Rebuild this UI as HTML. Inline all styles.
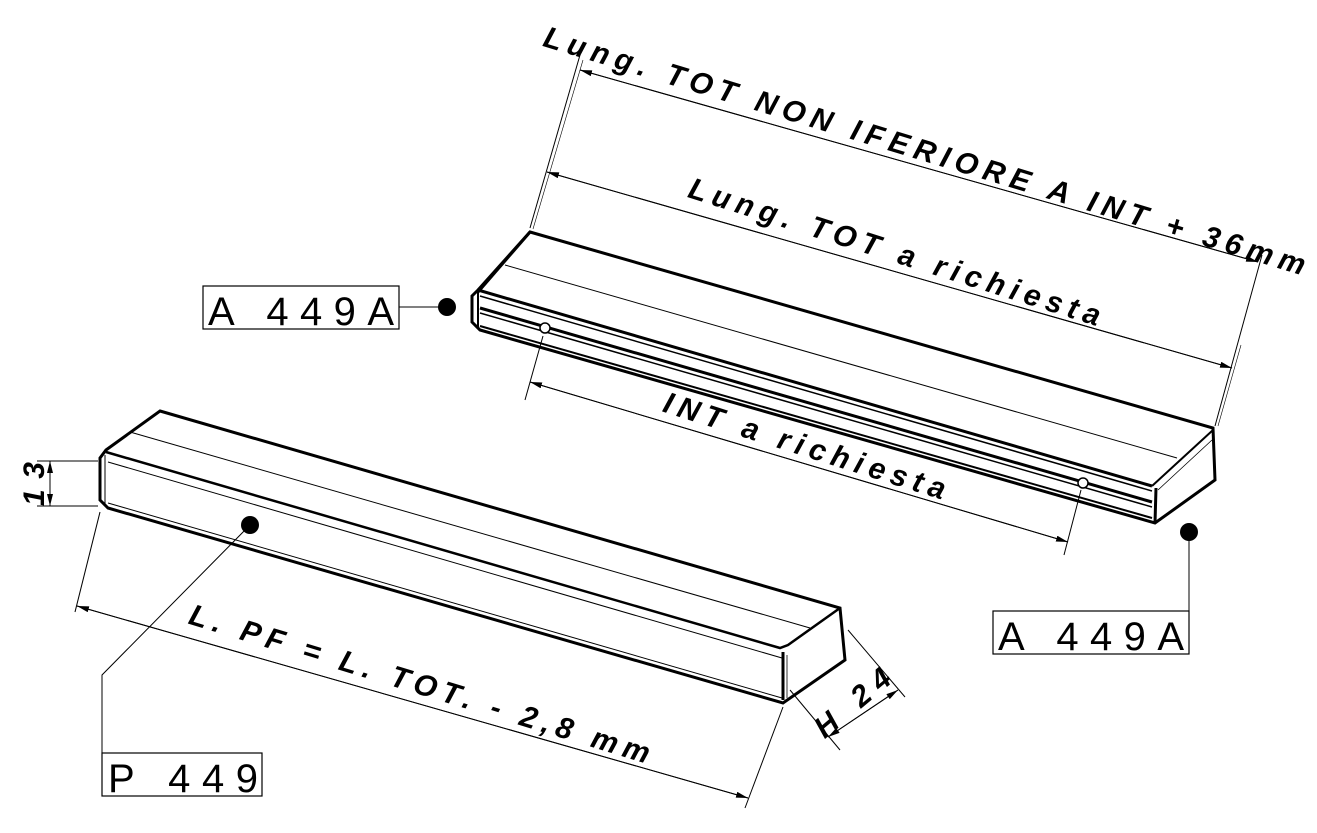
<!DOCTYPE html>
<html><head><meta charset="utf-8"><style>
html,body{margin:0;padding:0;background:#fff;}
svg{display:block;}
.d{font-family:"Liberation Sans",sans-serif;font-weight:bold;font-style:italic;font-size:30px;fill:#000;}
.b{font-family:"Liberation Sans",sans-serif;font-size:40px;fill:#000;}
</style></head><body>
<svg width="1317" height="833" viewBox="0 0 1317 833" xmlns="http://www.w3.org/2000/svg">
<defs>
<marker id="a" viewBox="0 0 12 6" refX="12" refY="3" markerWidth="12" markerHeight="6" orient="auto" markerUnits="userSpaceOnUse"><path d="M0,0 L12,3 L0,6 z" fill="#000"/></marker>
</defs>
<g fill="none" stroke="#000">
<path d="M530,232 L1213,428 L1215,480 L1155,523 L480,330 L472,322 L472,296 L478,290 Z" stroke-width="3" fill="#fff"/>
<path d="M478,290 L1152,486" stroke-width="3"/>
<path d="M480,296 L1152,491" stroke-width="1.5"/>
<path d="M480,308 L1152,502" stroke-width="3"/>
<path d="M480,313 L1152,507" stroke-width="1.5"/>
<path d="M480,326 L1152,518" stroke-width="2"/>
<path d="M478,292 L530,232" stroke-width="3"/>
<path d="M505,265 L1177,458" stroke-width="1"/>
<path d="M1152,486 L1213,430" stroke-width="2"/>
<path d="M1156,488 L1155,523" stroke-width="3"/>
<path d="M1158,490 L1212,440" stroke-width="0.8"/>
<path d="M478,292 L478,328" stroke-width="2"/>
<circle cx="545" cy="328" r="5" fill="#fff" stroke-width="1.5"/>
<circle cx="1083" cy="483" r="5" fill="#fff" stroke-width="1.5"/>

<path d="M160,411 L840,608 L845,660 L783,703 L108,508 L100,500 L100,458 L106,450 Z" stroke-width="3" fill="#fff"/>
<path d="M106,452 L780,648 L788,645 L840,608" stroke-width="2.5"/>
<path d="M108,462 L782,658" stroke-width="1"/>
<path d="M130,432 L810,628" stroke-width="1"/>
<path d="M108,503 L782,698" stroke-width="1"/>
<path d="M783,652 L783,700" stroke-width="3"/>
<path d="M787,655 L787,698" stroke-width="0.8"/>
<path d="M105,455 L105,504" stroke-width="1"/>

<g stroke-width="1">
<path d="M530,228 L580,55"/><path d="M533,229 L583,60" stroke-width="0.6"/>
<path d="M1215,426 L1262,255"/><path d="M1218,426 L1241,345" stroke-width="0.6"/>
<path d="M1258,262 L580,70" marker-end="url(#a)"/>
<path d="M580,70 L1258,262" marker-end="url(#a)"/>
<path d="M1232,368 L547,172" marker-end="url(#a)"/>
<path d="M547,172 L1232,368" marker-end="url(#a)"/>
<path d="M543,336 L525,400"/>
<path d="M1081,490 L1064,555"/>
<path d="M1068,542 L530,382" marker-end="url(#a)"/>
<path d="M530,382 L1068,542" marker-end="url(#a)"/>
<path d="M37,461 L98,461"/><path d="M37,506 L98,506"/>
<path d="M50,506 L50,461" marker-end="url(#a)"/><path d="M50,461 L50,506" marker-end="url(#a)"/>
<path d="M100,512 L75,612"/>
<path d="M783,707 L745,808"/>
<path d="M748,798 L77,606" marker-end="url(#a)"/>
<path d="M77,606 L748,798" marker-end="url(#a)"/>
<path d="M848,630 L905,697"/>
<path d="M790,690 L840,750"/>
<path d="M828,737 L898,690" marker-end="url(#a)"/>
<path d="M898,690 L828,737" marker-end="url(#a)"/>
<path d="M399,307 L447,307"/>
<path d="M1189,532 L1189,611"/>
<path d="M250,525 L102,675 L102,753"/>
</g>
<rect x="203" y="286" width="196" height="43" stroke-width="1.2"/>
<rect x="993" y="611" width="196" height="43" stroke-width="1.2"/>
<rect x="102" y="753" width="160" height="43" stroke-width="1.2"/>
</g>
<circle cx="447" cy="307" r="9"/>
<circle cx="1189" cy="532" r="9"/>
<circle cx="250" cy="525" r="9"/>
<text class="b" x="208" y="325" textLength="186" lengthAdjust="spacing">A 449A</text>
<text class="b" x="998" y="650" textLength="186" lengthAdjust="spacing">A 449A</text>
<text class="b" x="108" y="792" textLength="150" lengthAdjust="spacing">P 449</text>
<text class="d" transform="translate(925,150) rotate(16.8)" x="-397" y="11" textLength="794" lengthAdjust="spacing">Lung. TOT NON IFERIORE A INT + 36mm</text>
<text class="d" transform="translate(895,251) rotate(17.5)" x="-215" y="11" textLength="430" lengthAdjust="spacing">Lung. TOT a richiesta</text>
<text class="d" transform="translate(805,445) rotate(17.5)" x="-147" y="11" textLength="294" lengthAdjust="spacing">INT a richiesta</text>
<text class="d" transform="translate(420,683) rotate(17)" x="-240" y="11" textLength="480" lengthAdjust="spacing">L. PF = L. TOT. - 2,8 mm</text>
<text class="d" transform="translate(33,484) rotate(-90)" x="-22" y="11" textLength="44" lengthAdjust="spacing">13</text>
<text class="d" transform="translate(852,702) rotate(-40)" x="-45" y="11" textLength="90" lengthAdjust="spacing">H 24</text>
</svg>
</body></html>
